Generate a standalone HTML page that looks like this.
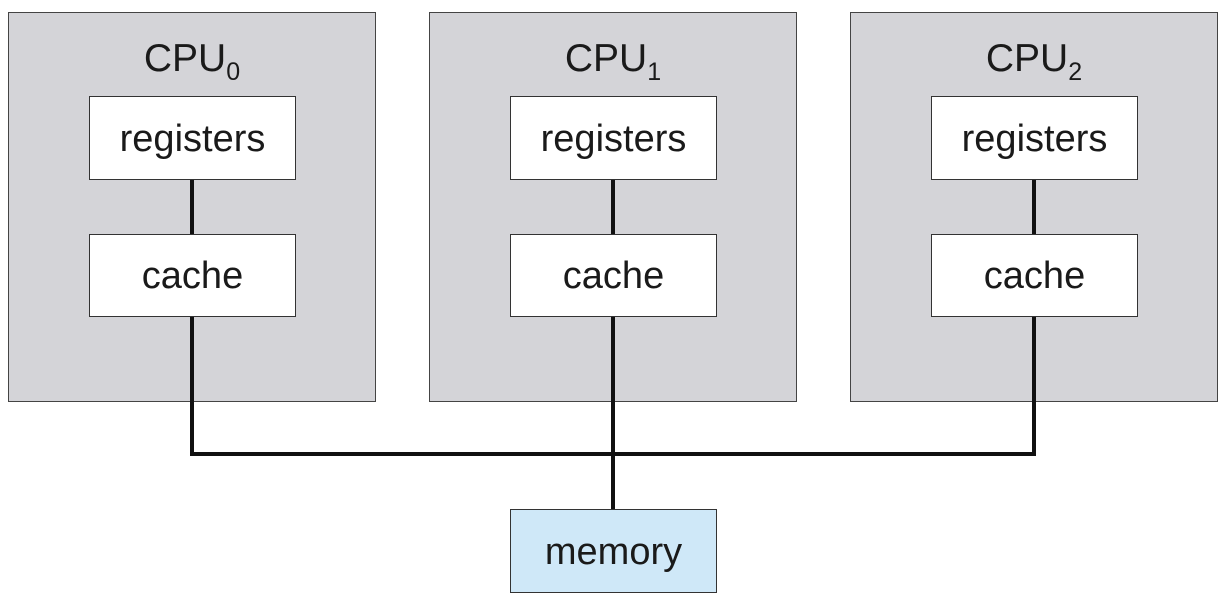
<!DOCTYPE html>
<html><head><meta charset="utf-8"><style>
html,body{margin:0;padding:0;background:#fff;}
body{width:1229px;height:596px;position:relative;overflow:hidden;font-family:"Liberation Sans",Arial,sans-serif;color:#1a1a1a;}
.cpu{position:absolute;top:12px;width:366px;height:388px;background:#d4d4d8;border:1.5px solid #444;}
.t{position:absolute;left:0;right:0;top:26px;text-align:center;font-size:39px;line-height:1;}
.t sub{font-size:25px;vertical-align:-9px;}
.b{position:absolute;left:80px;width:204px;height:81px;background:#fff;border:1.5px solid #333;text-align:center;line-height:81px;font-size:38px;box-sizing:border-box;}
.v{position:absolute;width:4px;background:#111;}
</style></head><body>
<div class="cpu" style="left:8px"><div class="t">CPU<sub>0</sub></div></div>
<div class="cpu" style="left:429px"><div class="t">CPU<sub>1</sub></div></div>
<div class="cpu" style="left:850px"><div class="t">CPU<sub>2</sub></div></div>
<!-- vertical lines -->
<div class="v" style="left:190px;top:178px;height:278px"></div>
<div class="v" style="left:611px;top:178px;height:334px"></div>
<div class="v" style="left:1032px;top:178px;height:278px"></div>
<div style="position:absolute;left:190px;top:452px;width:846px;height:4px;background:#111"></div>
<div class="b" style="left:89px;top:96px;width:207px;height:84px;line-height:84px">registers</div>
<div class="b" style="left:89px;top:234px;width:207px;height:83px;line-height:83px">cache</div>
<div class="b" style="left:510px;top:96px;width:207px;height:84px;line-height:84px">registers</div>
<div class="b" style="left:510px;top:234px;width:207px;height:83px;line-height:83px">cache</div>
<div class="b" style="left:931px;top:96px;width:207px;height:84px;line-height:84px">registers</div>
<div class="b" style="left:931px;top:234px;width:207px;height:83px;line-height:83px">cache</div>
<div class="b" style="left:510px;top:509px;width:207px;height:84px;line-height:84px;background:#cfe8f8">memory</div>
</body></html>
